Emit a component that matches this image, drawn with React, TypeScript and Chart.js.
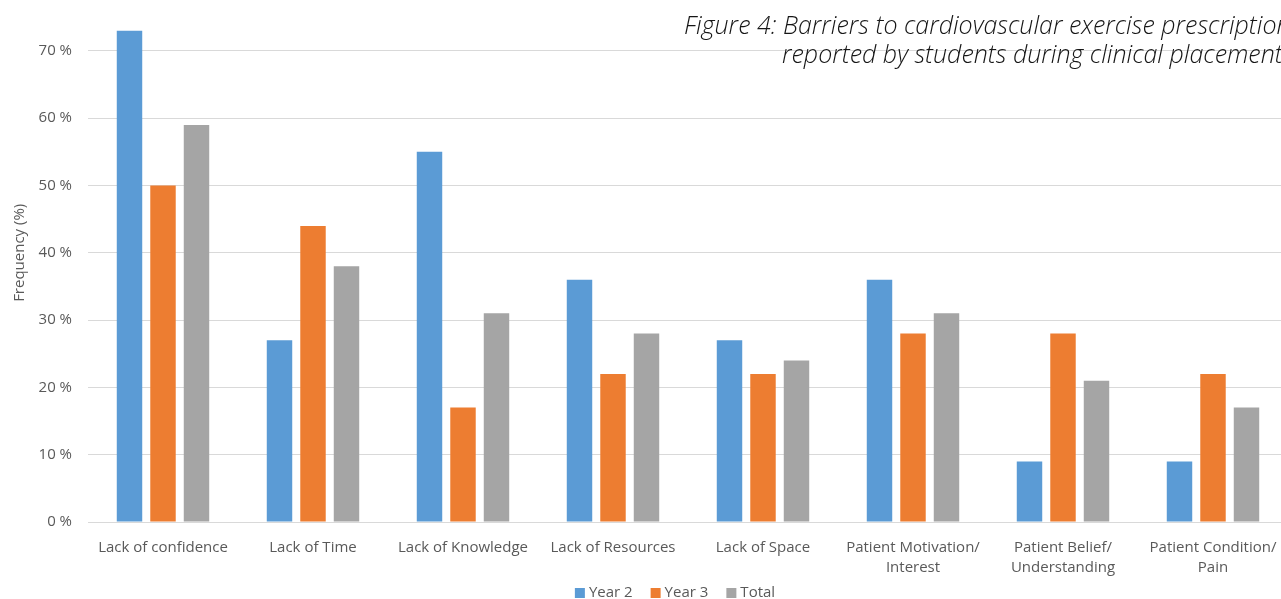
import { useEffect, useRef } from "react";
import { Chart, registerables } from "chart.js";

Chart.register(...registerables);

// Barrier categories (multi-line labels are split into arrays)
const categories: (string | string[])[] = [
  "Lack of confidence",
  "Lack of Time",
  "Lack of Knowledge",
  "Lack of Resources",
  "Lack of Space",
  ["Patient Motivation/", "Interest"],
  ["Patient Belief/", "Understanding"],
  ["Patient Condition/", "Pain"],
];

// Frequency (%) per student group
const year2 = [73, 27, 55, 36, 27, 36, 9, 9];
const year3 = [50, 44, 17, 22, 22, 28, 28, 22];
const total = [59, 38, 31, 28, 24, 31, 21, 17];

const seriesNames = ["Year 2", "Year 3", "Total"];
const seriesColors = ["#5B9BD5", "#ED7D31", "#A5A5A5"];

// Value axis
const yMin = 0;
const yMax = 80;
const yStep = 10;
const yTitle = "Frequency (%)";

const titleLines = [
  "Figure 4: Barriers to cardiovascular exercise prescription as",
  "reported by students during clinical placement",
];

const TEXT = "#595959";
const FONT = "'Open Sans', sans-serif";
const CANVAS_W = 1300;
const CANVAS_H = 640;
const SHIFT_Y = -30;

// Italic caption in the upper right corner
const captionPlugin = {
  id: "caption",
  afterDraw(chart: Chart) {
    const ctx = chart.ctx;
    ctx.save();
    ctx.font = "italic 300 25px 'Open Sans', sans-serif";
    ctx.fillStyle = "#161616";
    ctx.textAlign = "left";
    ctx.textBaseline = "alphabetic";
    const starts = [
      [684, 34 - SHIFT_Y],
      [782, 63 - SHIFT_Y],
    ];
    titleLines.forEach((line, i) => {
      ctx.fillText(line, starts[i][0], starts[i][1]);
    });
    ctx.restore();
  },
};

// Legend row drawn beneath the category labels
const legendPlugin = {
  id: "legendRow",
  afterDraw(chart: Chart) {
    const ctx = chart.ctx;
    const sets = chart.data.datasets;
    const box = 10;
    const gapText = 4;
    const gapItem = 18;
    ctx.save();
    ctx.font = `15px ${FONT}`;
    ctx.textBaseline = "alphabetic";
    ctx.textAlign = "left";
    const widths = sets.map((d) => box + gapText + ctx.measureText(String(d.label)).width);
    const totalW = widths.reduce((a, b) => a + b, 0) + gapItem * (sets.length - 1);
    let x = 675 - totalW / 2;
    const baseline = 597 - SHIFT_Y;
    const boxTop = 588 - SHIFT_Y;
    sets.forEach((d, i) => {
      ctx.fillStyle = String(d.backgroundColor);
      ctx.fillRect(x, boxTop, box, box);
      ctx.fillStyle = TEXT;
      ctx.fillText(String(d.label), x + box + gapText, baseline);
      x += widths[i] + gapItem;
    });
    ctx.restore();
  },
};

export default function App() {
  const ref = useRef<HTMLCanvasElement>(null);

  useEffect(() => {
    if (!ref.current) return;
    const values = [year2, year3, total];
    const chart = new Chart(ref.current, {
      type: "bar",
      data: {
        labels: categories,
        datasets: values.map((v, i) => ({
          label: seriesNames[i],
          data: v,
          backgroundColor: seriesColors[i],
          borderWidth: 0,
          categoryPercentage: 0.67,
          barPercentage: 0.76,
        })),
      },
      options: {
        responsive: false,
        animation: false,
        devicePixelRatio: 1,
        layout: { padding: { top: 13.6, left: 0, right: 12, bottom: 0 } },
        plugins: {
          legend: { display: false },
          tooltip: { enabled: false },
          title: { display: false },
        },
        scales: {
          x: {
            grid: { display: false },
            border: { display: false },
            ticks: {
              color: TEXT,
              font: { family: FONT, size: 15, lineHeight: 1.33 },
              padding: 8,
              maxRotation: 0,
              autoSkip: false,
            },
            afterFit(scale: any) {
              scale.height = 88;
            },
          },
          y: {
            min: yMin,
            max: yMax,
            border: { display: false },
            grid: { color: "#D9D9D9", lineWidth: 1, drawTicks: false },
            ticks: {
              stepSize: yStep,
              color: TEXT,
              font: { family: FONT, size: 15 },
              padding: 16,
              callback: (v: any) => `${v} %`,
            },
            title: {
              display: true,
              text: yTitle,
              color: TEXT,
              font: { family: FONT, size: 15, lineHeight: 1.2 },
              padding: { top: 11, bottom: 0 },
            },
            afterFit(scale: any) {
              scale.width = 88;
              scale.paddingTop = 0;
              scale.paddingBottom = 0;
            },
          },
        },
      },
      plugins: [captionPlugin, legendPlugin],
    });
    return () => chart.destroy();
  }, []);

  return (
    <div
      style={{
        position: "fixed",
        left: 0,
        top: 0,
        width: 1281,
        height: 599,
        overflow: "hidden",
        background: "#ffffff",
      }}
    >
      <div style={{ position: "absolute", left: 0, top: SHIFT_Y }}>
        <canvas
          ref={ref}
          width={CANVAS_W}
          height={CANVAS_H}
          style={{ display: "block", width: CANVAS_W, height: CANVAS_H }}
        />
      </div>
    </div>
  );
}
